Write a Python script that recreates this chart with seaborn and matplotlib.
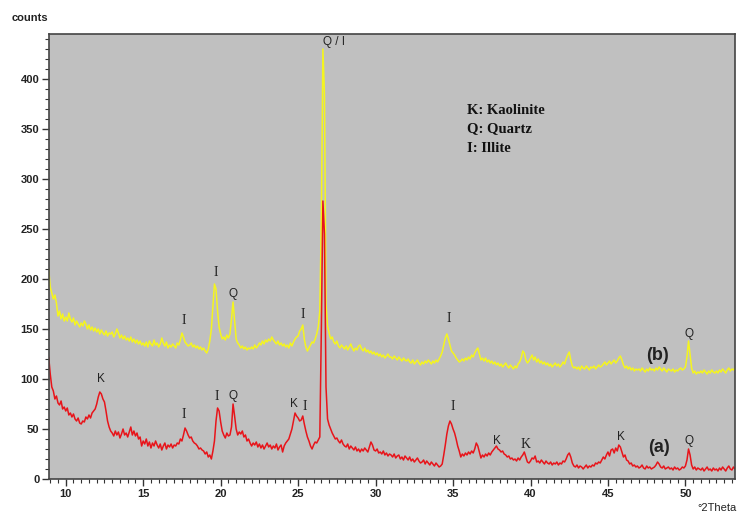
import numpy as np
import pandas as pd
import seaborn as sns
import matplotlib.pyplot as plt
from matplotlib.ticker import MultipleLocator

# 2theta grid of the scan (0.1 deg step, 8.9 .. 53.2)
theta_start, theta_end = 8.9, 53.2

# counts, one row per degree (x.0 .. x.9)
counts_a = [122,
    105, 92, 88, 80, 83, 76, 74, 78, 70, 72,
    68, 71, 64, 66, 62, 65, 60, 58, 61, 56,
    55, 58, 57, 62, 60, 64, 61, 66, 68, 70,
    75, 82, 87, 85, 80, 77, 68, 58, 52, 48,
    46, 43, 48, 44, 47, 41, 45, 50, 44, 46,
    42, 47, 52, 44, 48, 43, 46, 40, 42, 33,
    38, 35, 40, 33, 37, 31, 36, 33, 38, 34,
    31, 35, 29, 33, 36, 30, 34, 32, 35, 31,
    34, 33, 36, 35, 40, 38, 44, 51, 48, 44,
    41, 42, 38, 36, 35, 33, 30, 31, 29, 28,
    25, 27, 22, 24, 20, 28, 38, 58, 71, 68,
    57, 48, 44, 41, 46, 43, 44, 52, 75, 63,
    50, 44, 47, 45, 48, 42, 44, 38, 40, 36,
    33, 36, 34, 37, 32, 35, 31, 34, 30, 33,
    36, 32, 34, 30, 33, 31, 35, 29, 32, 34,
    27, 33, 36, 38, 40, 45, 50, 58, 66, 63,
    61, 58, 59, 63, 55, 48, 42, 38, 33, 30,
    34, 37, 36, 39, 42, 150, 278, 245, 92, 60,
    54, 50, 46, 43, 40, 41, 38, 36, 39, 35,
    33, 32, 35, 30, 33, 31, 29, 32, 28, 30,
    27, 30, 28, 31, 29, 27, 32, 37, 34, 29,
    28, 30, 26, 27, 25, 28, 24, 26, 23, 25,
    24, 22, 25, 21, 23, 24, 20, 22, 19, 23,
    21, 19, 22, 18, 20, 17, 19, 21, 18, 16,
    17, 19, 15, 18, 16, 14, 17, 15, 13, 16,
    14, 12, 13, 15, 24, 34, 45, 53, 58, 55,
    50, 46, 40, 33, 28, 22, 25, 23, 26, 24,
    27, 25, 28, 26, 30, 36, 33, 27, 21, 24,
    22, 25, 23, 26, 24, 27, 29, 31, 33, 30,
    29, 27, 28, 25, 24, 22, 23, 20, 21, 19,
    20, 18, 21, 19, 22, 24, 27, 22, 17, 16,
    18, 21, 20, 23, 17, 18, 16, 19, 17, 15,
    18, 16, 15, 17, 14, 16, 15, 17, 14, 16,
    15, 18, 17, 20, 24, 26, 22, 16, 13, 12,
    14, 11, 13, 12, 10, 12, 14, 11, 13, 12,
    14, 13, 16, 15, 17, 16, 19, 22, 20, 24,
    27, 23, 29, 30, 26, 31, 28, 34, 32, 27,
    22, 24, 19, 18, 15, 16, 13, 14, 12, 13,
    11, 12, 14, 11, 10, 13, 11, 12, 10, 11,
    12, 14, 17, 15, 12, 11, 13, 10, 11, 12,
    10, 11, 9, 12, 10, 11, 9, 10, 12, 11,
    13, 19, 30, 24, 14, 10, 12, 9, 11, 10,
    9, 11, 8, 10, 12, 9, 10, 8, 11, 9,
    10, 8, 11, 9, 12, 10, 8, 11, 13, 10,
    9, 12, 10]

counts_b = [210,
    192, 186, 180, 184, 176, 163, 168, 160, 165, 158,
    162, 158, 166, 160, 157, 161, 154, 158, 155, 152,
    156, 153, 158, 155, 150, 154, 149, 152, 148, 151,
    147, 150, 145, 149, 146, 144, 148, 143, 146, 145,
    147, 142, 145, 150, 146, 141, 144, 140, 143, 139,
    141, 138, 142, 137, 140, 136, 139, 135, 138, 134,
    136, 133, 137, 132, 138, 135, 133, 139, 134, 136,
    132, 135, 141, 136, 133, 137, 131, 134, 132, 135,
    133, 131, 136, 134, 139, 146, 142, 137, 135, 133,
    134, 136, 132, 134, 131, 133, 130, 132, 129, 131,
    128, 126, 130, 138, 150, 172, 195, 190, 168, 152,
    145, 140, 142, 139, 144, 141, 145, 160, 177, 158,
    140, 136, 134, 131, 133, 130, 132, 129, 131, 130,
    132, 130, 134, 131, 133, 136, 134, 138, 135, 139,
    137, 140, 138, 142, 139, 137, 135, 138, 134, 136,
    133, 135, 132, 134, 131, 136, 133, 137, 140, 142,
    143, 148, 150, 154, 140, 132, 128, 131, 134, 137,
    136, 140, 145, 152, 168, 260, 430, 385, 175, 153,
    146, 140, 142, 137, 135, 138, 133, 131, 134, 132,
    130, 133, 129, 132, 135, 131, 128, 131, 129, 133,
    134, 130, 128, 131, 127, 129, 126, 128, 125, 127,
    124, 126, 123, 125, 122, 124, 121, 123, 125, 122,
    122, 120, 123, 121, 119, 122, 120, 118, 121, 119,
    118, 120, 117, 116, 119, 115, 117, 119, 116, 114,
    117, 115, 118, 116, 119, 117, 115, 118, 116, 119,
    117, 120, 123, 127, 134, 141, 145, 140, 134, 128,
    126, 124, 121, 119, 117, 118, 120, 118, 121, 119,
    122, 120, 124, 122, 126, 129, 131, 125, 119, 121,
    118, 121, 117, 119, 116, 118, 115, 117, 114, 116,
    113, 115, 112, 114, 116, 113, 111, 114, 112, 110,
    113, 111, 115, 117, 121, 128, 126, 119, 116, 118,
    121, 124, 119, 122, 117, 120, 116, 118, 115, 117,
    114, 116, 113, 115, 112, 114, 116, 113, 115, 112,
    114, 117, 115, 120, 124, 127, 119, 113, 111, 112,
    110, 112, 109, 113, 111, 110, 113, 111, 109, 112,
    111, 113, 110, 112, 114, 112, 113, 115, 117, 114,
    116, 118, 115, 117, 119, 116, 118, 121, 123, 119,
    114, 111, 113, 110, 112, 109, 111, 108, 110, 109,
    110, 108, 111, 109, 107, 110, 108, 111, 109, 110,
    108, 111, 109, 112, 110, 108, 111, 109, 107, 110,
    109, 108, 110, 107, 109, 108, 110, 111, 109, 110,
    112, 122, 138, 124, 111, 106, 108, 105, 107, 106,
    108, 106, 109, 107, 105, 108, 106, 109, 107, 106,
    108, 106, 109, 107, 110, 108, 106, 109, 111, 108,
    110, 109, 111]

# peak labels: (2theta, counts, text, serif?)
labels_a = [(12.3, 100, 'K', False), (17.65, 64, 'I', True), (19.77, 82, 'I', True),
            (20.8, 83, 'Q', False), (24.75, 75, 'K', False), (25.4, 73, 'I', True),
            (34.97, 72, 'I', True), (37.85, 38, 'K', False), (39.7, 35, 'K', True),
            (45.85, 42, 'K', False), (50.2, 38, 'Q', False)]
labels_b = [(17.6, 158, 'I', True), (19.7, 207, 'I', True), (20.8, 185, 'Q', False),
            (25.3, 164, 'I', True), (34.7, 160, 'I', True), (50.2, 145, 'Q', False),
            (27.3, 437, 'Q / I', False)]
key_lines = ['K: Kaolinite', 'Q: Quartz', 'I: Illite']

theta = np.round(np.linspace(theta_start, theta_end, len(counts_a)), 1)
df = pd.DataFrame({'theta': theta, 'a': counts_a, 'b': counts_b})

sns.set_style('ticks')
plt.rcParams['font.family'] = ['Liberation Sans', 'DejaVu Sans']

fig = plt.figure(figsize=(7.39, 5.15), dpi=100)
ax = fig.add_axes([49 / 739, 36 / 515, 686 / 739, 445 / 515])
ax.set_facecolor('#c0c0c0')

sns.lineplot(data=df, x='theta', y='b', color='#f5f51e', lw=1.1, ax=ax, estimator=None, sort=False)
sns.lineplot(data=df, x='theta', y='a', color='#e8141a', lw=1.1, ax=ax, estimator=None, sort=False)

ax.set_xlim(8.92, 53.2)
ax.set_ylim(0, 445)
ax.set_xlabel('')
ax.set_ylabel('')
ax.xaxis.set_major_locator(MultipleLocator(5))
ax.xaxis.set_minor_locator(MultipleLocator(0.5))
ax.yaxis.set_major_locator(MultipleLocator(50))
ax.yaxis.set_minor_locator(MultipleLocator(10))
ax.tick_params(which='major', length=5, width=1, color='#333333', labelsize=8, labelcolor='#222222', pad=2)
ax.tick_params(which='minor', length=3, width=0.8, color='#333333')
for lab in ax.get_xticklabels() + ax.get_yticklabels():
    lab.set_fontweight('bold')
for s in ax.spines.values():
    s.set_color('#444444')
    s.set_linewidth(1.2)

for x, y, t, serif in labels_a + labels_b:
    ax.text(x, y, t, ha='center', va='center', color='#222222',
            family='Liberation Serif' if serif else 'Liberation Sans',
            fontsize=10 if serif else 8.5)

ax.text(48.3, 31, '(a)', ha='center', va='center', fontsize=13, fontweight='bold', color='#222222')
ax.text(48.2, 124, '(b)', ha='center', va='center', fontsize=13, fontweight='bold', color='#222222')

for i, line in enumerate(key_lines):
    ax.text(35.9, 369 - 19 * i, line, ha='left', va='center', family='Liberation Serif',
            fontsize=10.5, fontweight='bold', color='#111111')

fig.text(12 / 739, 1 - 18 / 515, 'counts', ha='left', va='center', fontsize=8, fontweight='bold', color='#222222')
fig.text(737 / 739, 1 - 508 / 515, '°2Theta', ha='right', va='center', fontsize=8, color='#222222')

fig.savefig('out.png', dpi=100)
